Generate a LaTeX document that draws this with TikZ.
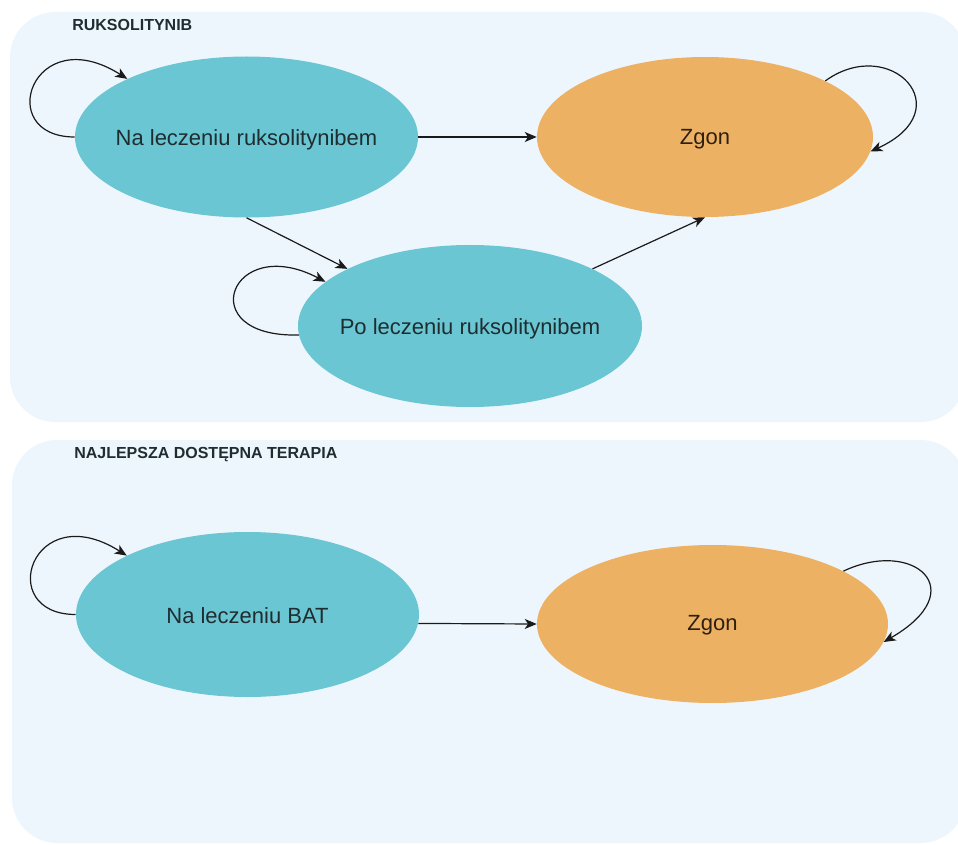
\documentclass[tikz,border=0pt]{standalone}
\usepackage{fontspec}
\setmainfont{Liberation Sans}
\usetikzlibrary{shapes.geometric,arrows.meta}
\definecolor{panelbg}{HTML}{EEF6FD}
\definecolor{tealc}{HTML}{69C6D2}
\definecolor{orangec}{HTML}{EDB163}
\definecolor{txtc}{HTML}{1F2D30}
\definecolor{zgtxt}{HTML}{2E2010}
\definecolor{arrc}{HTML}{1A1A1A}
\tikzset{
  panel/.style={fill=panelbg, draw=none, rounded corners=34pt},
  ell/.style={ellipse, draw=none, inner sep=0pt},
  tealell/.style={ell, fill=tealc},
  orangeell/.style={ell, fill=orangec},
  stxt/.style={font=\fontsize{16.5pt}{19pt}\selectfont, text=txtc, inner sep=0pt},
  ztxt/.style={font=\fontsize{16.5pt}{19pt}\selectfont, text=zgtxt, inner sep=0pt},
  lbl/.style={font=\fontsize{12pt}{14pt}\selectfont\bfseries, text=txtc, inner sep=0pt, anchor=west},
  arr/.style={draw=arrc, line width=0.9pt, -{Stealth[length=9pt,width=7.5pt,inset=2.5pt]}},
}
\begin{document}
\begin{tikzpicture}[x=0.75pt,y=-0.75pt]
\useasboundingbox (0,0) rectangle (958,845);
\fill[white] (0,0) rectangle (958,845);
% panels
\fill[panel] (10,12) rectangle (966,422);
\fill[panel] (12,440) rectangle (966,843);
\node[lbl] (L1) at (72,25) {RUKSOLITYNIB};
\node[lbl] (L2) at (74,455) {NAJLEPSZA DOSTĘPNA TERAPIA};
% top states
\node[tealell, minimum width={343*0.75pt}, minimum height={161*0.75pt}] (E1) at (246.5,137) {};
\node[stxt] (E1t) at ([yshift=-2pt]E1.center) {Na leczeniu ruksolitynibem};
\node[orangeell, minimum width={336*0.75pt}, minimum height={160*0.75pt}] (Z1) at (705,137) {};
\node[ztxt] (Z1t) at ([yshift=-2pt]Z1.center) {Zgon};
\node[tealell, minimum width={344*0.75pt}, minimum height={162*0.75pt}] (E2) at (470,326) {};
\node[stxt] (E2t) at ([yshift=-2pt]E2.center) {Po leczeniu ruksolitynibem};
% bottom states
\node[tealell, minimum width={343*0.75pt}, minimum height={165*0.75pt}] (E3) at (247.5,614.5) {};
\node[stxt] (E3t) at ([yshift=-1pt]E3.center) {Na leczeniu BAT};
\node[orangeell, minimum width={351*0.75pt}, minimum height={158*0.75pt}] (Z2) at (712.5,624) {};
\node[ztxt] (Z2t) at ([yshift=-1pt]Z2.center) {Zgon};
% straight connectors
\draw[arr] (E1.east) -- (Z1.west);
\draw[arr] (E1.south) -- (E2.155);
\draw[arr] (E2.25) -- (Z1.south);
\draw[arr] (E3.-3) -- (Z2.west);
% loops
\draw[arr] (E1.west) .. controls +(-82,0) and +(-95,-60) .. (E1.154);
\draw[arr] (Z1.25) .. controls +(65,-47) and +(92,-42) .. (Z1.-5);
\draw[arr] (E2.183) .. controls +(-108,3) and +(-95,-50) .. (E2.163);
\draw[arr] (E3.west) .. controls +(-82,0) and +(-95,-60) .. (E3.154);
\draw[arr] (Z2.22) .. controls +(70,-33) and +(90,-52) .. (Z2.-6);
\end{tikzpicture}
\end{document}
